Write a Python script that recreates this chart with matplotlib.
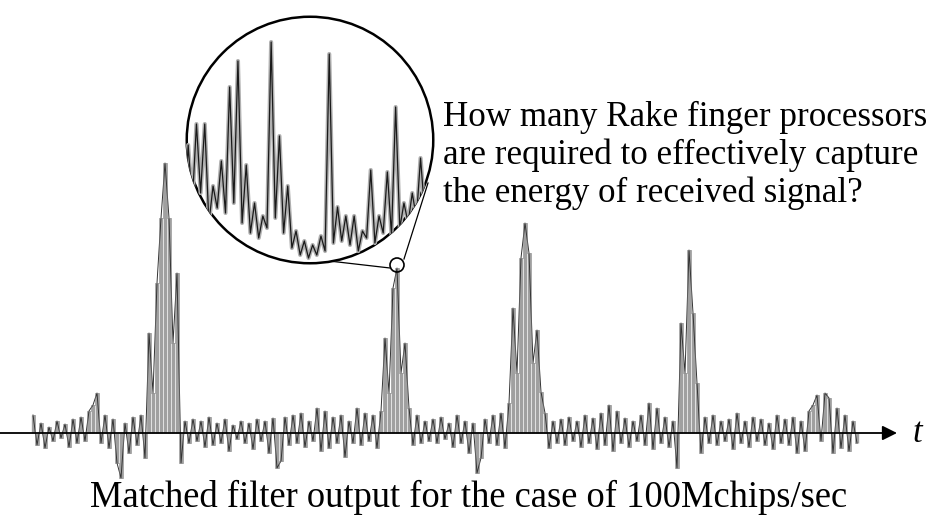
import numpy as np
import matplotlib.pyplot as plt
from matplotlib.patches import Circle

# matched filter output, sampled every 4 px (amplitude in px above the axis)
signal = [18, -12, 10, -15, 6, -8, 12, -5, 9, -14, 14, -10, 16, -8, 22, 28,
          40, -10, 18, -15, 14, -30, -45, 10, -20, 16, -12, 18,
          -25, 100, 40, 150, 215, 270, 215, 90, 160, -30, 12, -10,
          14, -8, 12, -14, 16, -12, 10, -10, 14, -18, 8, -6, 12, -10, 10, -16, 14, -8, 12, -20,
          15, -35, -28, 16, -12, 18, -10, 20, -14, 12, -8, 25, -18, 22, -15, 16, -10, 18, -24, 12,
          -10, 25, -12, 20, -8, 18, -15, 22, 95, 40, 145,
          165, 60, 90, 25, -12, 18, -10, 12, -8, 14, -10, 16, -6, 10, -14, 18, -10, 12, -20, 10,
          -40, -25, 14, -10, 18, -12, 20, -15, 30, 125, 60, 175, 210, 180, 70, 103, 41, 20, -15, 12,
          -10, 14, -12, 16, -8, 12, -14, 18, -10, 15, -16, 20, -12, 28, -18, 22, -10, 15, -14, 12,
          -8, 18, -12, 30, -16, 25, -10, 16, -14, 12,
          -35, 110, 60, 183, 120, 50, -20, 16,
          -10, 18, -12, 12, -8, 14, -16, 20, -10, 12, -14, 16, -8, 14, -12, 10, -16, 18, -10, 14,
          -12, 16, -20, 12, -18, 22, 28,
          38, -8, 40, 35, -20, 25, -15, 18, -18, 12, -10]

# magnified part around the second peak (spikes and valleys, px)
zoom_signal = [40, 118, 60, 139, 70, 139, 40, 77, 55, 102, 50, 176, 60, 202, 40, 98,
               30, 60, 25, 47, 35, 221, 45, 127, 30, 77, 15, 32, 8, 22, 5, 18,
               8, 27, 12, 209, 20, 56, 22, 47, 18, 47, 12, 32, 25, 93, 20, 47,
               30, 91, 28, 156, 35, 60, 40, 70, 45, 105, 50, 80]

question = ["How many Rake finger processors",
            "are required to effectively capture",
            "the energy of received signal?"]
caption = "Matched filter output for the case of 100Mchips/sec"

W, H = 930, 521
fig = plt.figure(figsize=(W / 100, H / 100), dpi=100)

# main signal axes
ax = fig.add_axes([0, 0, 1, 1])
ax.set_xlim(-33 / 4, (W - 33) / 4)
ax.set_ylim(-(H - 433), 433)
ax.axis('off')
n = np.arange(len(signal))
ax.vlines(n, 0, signal, color='#a0a0a0', lw=2.4)
ax.plot(n, signal, color='#333333', lw=0.7)
ax.plot(n, signal, drawstyle='steps-mid', color='#777777', lw=0.4)

# overlay in pixel coordinates for axis, leaders and texts
ov = fig.add_axes([0, 0, 1, 1])
ov.set_xlim(0, W)
ov.set_ylim(H, 0)
ov.axis('off')
ov.annotate('', xy=(897, 433), xytext=(0, 433),
            arrowprops=dict(arrowstyle='-|>', color='black', lw=1.3,
                            mutation_scale=22, shrinkA=0, shrinkB=0))
ov.text(917, 433, 't', fontsize=25, style='italic', family='Liberation Serif',
        ha='center', va='center')
ov.add_patch(Circle((397, 265), 7, fill=False, ec='black', lw=1.2))
ov.plot([277, 390], [255, 268], color='black', lw=0.9)
ov.plot([404, 428], [259, 183], color='black', lw=0.9)
for k, line in enumerate(question):
    ov.text(443, 117 + 38 * k, line, fontsize=25.2, family='Liberation Serif',
            ha='left', va='center')
ov.text(469, 497, caption, fontsize=26.3, family='Liberation Serif',
        ha='center', va='center')

# magnified inset
cx, cy, r = 310, 140, 124
ins = fig.add_axes([(cx - r) / W, (H - cy - r) / H, 2 * r / W, 2 * r / H])
ins.set_xlim(2 / 4.15, (2 * r + 2) / 4.15)
ins.set_ylim(-1, 2 * r - 1)
ins.axis('off')
clip = Circle((0.5, 0.5), 0.5, transform=ins.transAxes, fc='white', ec='none')
ins.add_patch(clip)
k = np.arange(len(zoom_signal))
l1, = ins.plot(k, zoom_signal, color='#b0b0b0', lw=3.0)
l2, = ins.plot(k, zoom_signal, color='#1a1a1a', lw=0.9)
l1.set_clip_path(clip)
l2.set_clip_path(clip)
ins.add_patch(Circle((0.5, 0.5), 0.497, transform=ins.transAxes, fill=False,
                     ec='black', lw=1.8, clip_on=False))

fig.savefig('out.png', dpi=100)
